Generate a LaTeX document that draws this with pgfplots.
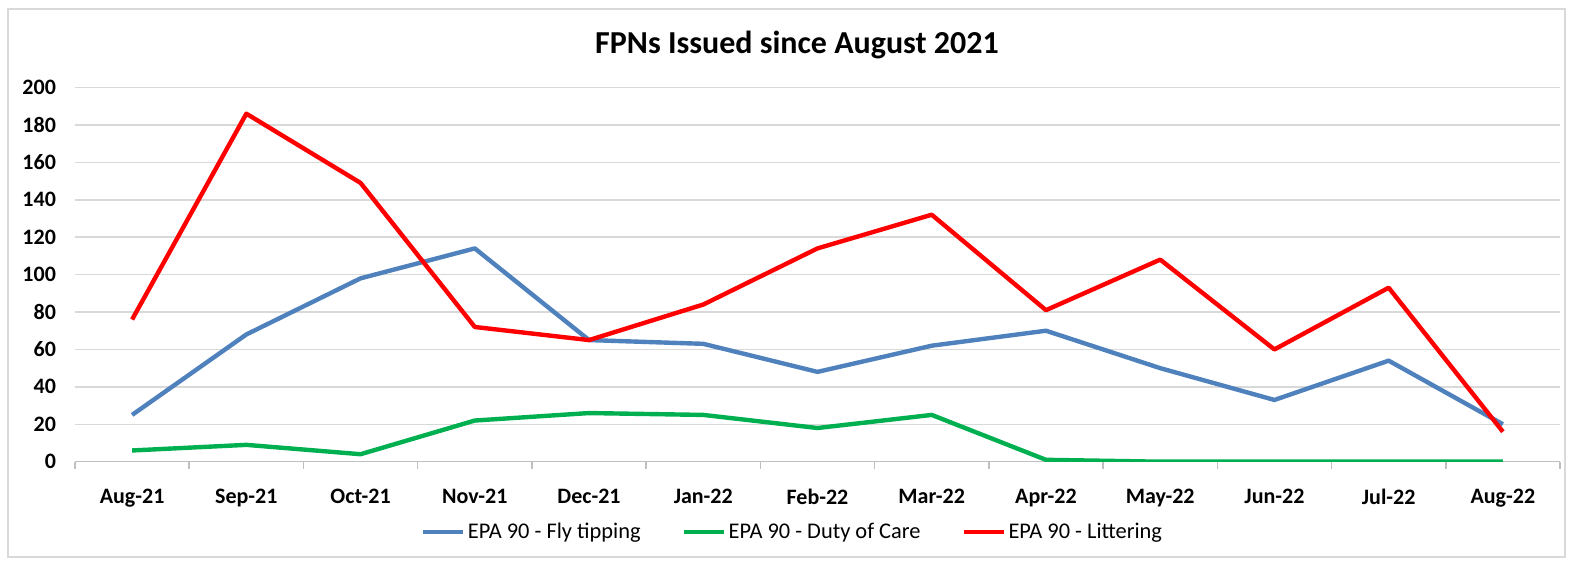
\documentclass[border=0pt]{standalone}
\usepackage{pgfplots}
\pgfplotsset{compat=1.18}
\usepackage{fontspec}
\setmainfont{Carlito}
\definecolor{cblue}{HTML}{4F81BD}
\definecolor{cgreen}{HTML}{00B050}
\definecolor{cred}{HTML}{FF0000}
\definecolor{cgrid}{HTML}{D9D9D9}
\definecolor{caxis}{HTML}{BFBFBF}
\begin{document}
\begin{tikzpicture}
\begin{scope}[x=0.5pt,y=0.5pt]
\useasboundingbox (-75,-99.3) rectangle (1498,461.7);
\draw[color=cgrid, line width=0.75pt] (-67,-95.3) rectangle (1490,452.7);
\node[font=\bfseries\fontsize{16}{18}\selectfont] at (722,416.7) {FPNs Issued since August 2021};
\end{scope}
\begin{axis}[
  scale only axis, width=742.5pt, height=187.1pt,
  at={(0,0)}, anchor=south west,
  xmin=-0.5, xmax=12.5, ymin=0, ymax=200,
  xtick={0,...,12},
  xticklabels={Aug-21,Sep-21,Oct-21,Nov-21,Dec-21,Jan-22,Feb-22,Mar-22,Apr-22,May-22,Jun-22,Jul-22,Aug-22},
  minor xtick={-0.5,0.5,...,12.5},
  major x tick style={draw=none},
  minor x tick style={color=caxis, line width=0.75pt},
  minor tick length=3.5pt,
  xtick align=outside,
  ytick={0,20,...,200},
  axis x line*=bottom, axis y line*=left,
  x axis line style={color=caxis, line width=0.75pt, -},
  y axis line style={draw=none},
  ytick style={draw=none},
  ymajorgrids, grid style={color=cgrid, line width=0.75pt},
  /pgf/number format/assume math mode=true,
  ticklabel style={font=\bfseries\fontsize{11}{13}\selectfont},
  yticklabel style={xshift=-6pt},
  xticklabel style={yshift=-6pt},
  legend style={at={(0.4835,-0.188)}, anchor=center, draw=none, fill=none,
    legend columns=3, font=\fontsize{11.2}{13}\selectfont,
    /tikz/every even column/.append style={column sep=19pt},
    nodes={inner sep=1.5pt},
    inner sep=0pt},
  legend image code/.code={\draw[#1, line width=2pt] (0pt,0pt) -- (20pt,0pt);},
  every axis plot/.append style={line width=2.2pt, line join=round},
]
\addplot[cblue, mark=none] coordinates {(0,25) (1,68) (2,98) (3,114) (4,65) (5,63) (6,48) (7,62) (8,70) (9,50) (10,33) (11,54) (12,20)};
\addlegendentry{EPA 90 - Fly tipping}
\addplot[cgreen, mark=none] coordinates {(0,6) (1,9) (2,4) (3,22) (4,26) (5,25) (6,18) (7,25) (8,1) (9,0) (10,0) (11,0) (12,0)};
\addlegendentry{EPA 90 - Duty of Care}
\addplot[cred, mark=none] coordinates {(0,76) (1,186) (2,149) (3,72) (4,65) (5,84) (6,114) (7,132) (8,81) (9,108) (10,60) (11,93) (12,16)};
\addlegendentry{EPA 90 - Littering}
\end{axis}
\end{tikzpicture}
\end{document}
